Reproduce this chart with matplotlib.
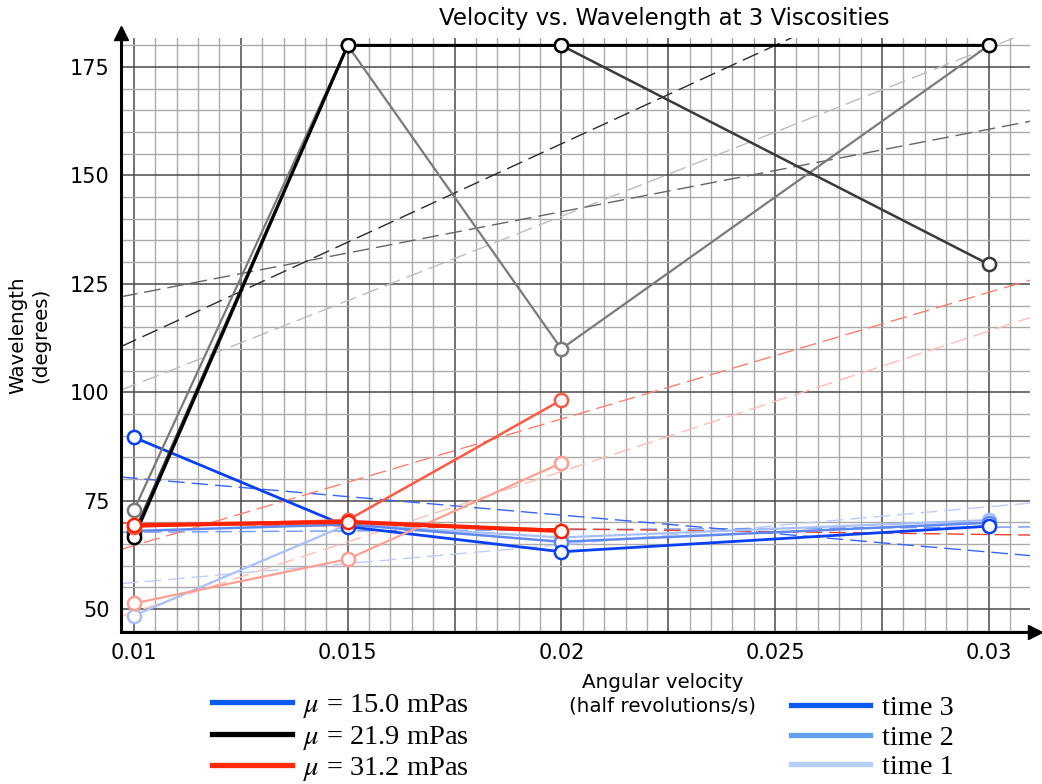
import numpy as np
import matplotlib
matplotlib.use("Agg")
import matplotlib.pyplot as plt
from matplotlib.lines import Line2D
from matplotlib.ticker import FixedLocator, MultipleLocator

plt.rcParams['font.family'] = ['DejaVu Sans']
plt.rcParams['mathtext.fontset'] = 'stix'

# angular velocity (half revolutions/s)
velocity = [0.01, 0.015, 0.02, 0.03]

# wavelength (degrees) per viscosity, time 3 / time 2 / time 1
blue_t3 = [89.6, 69.0, 63.2, 69.1]
blue_t2 = [68.0, 69.5, 65.5, 69.9]
blue_t1 = [48.5, 69.5, 66.5, 70.5]

black_t3 = [66.5, 180.0, 180.0, 180.0]
black_t2 = [67.5, 180.0, 180.0, 129.5]
black_t1 = [72.8, 180.0, 110.0, 180.0]

red_t3 = [69.3, 70.1, 68.0, np.nan]
red_t2 = [69.0, 70.5, 98.2, np.nan]
red_t1 = [51.3, 61.5, 83.7, np.nan]

viscosity_labels = ['$\\mu$ = 15.0 mPas', '$\\mu$ = 21.9 mPas', '$\\mu$ = 31.2 mPas']
time_labels = ['time 3', 'time 2', 'time 1']
x_tick_vals = [0.01, 0.015, 0.02, 0.025, 0.03]
x_tick_labels = ['0.01', '0.015', '0.02', '0.025', '0.03']
y_tick_vals = [50, 75, 100, 125, 150, 175]

# colours: each family goes dark (time 3) -> light (time 1)
blue_cols = ['#0a40f5', '#5f88f2', '#a9c0f7']
black_cols = ['#000000', '#3a3a3a', '#7a7a7a']
red_cols = ['#ff2200', '#ff5a45', '#ff9f94']
trend_blue = ['#3565f0', '#6f95f2', '#bccdf8']
trend_black = ['#2a2a2a', '#666666', '#bdbdbd']
trend_red = ['#e8402a', '#ff8070', '#ffbdb4']

fig = plt.figure(figsize=(10.42, 7.84), dpi=100)
ax = fig.add_axes([0.1161, 0.1939, 0.8724, 0.7576])
ax.set_xlim(0.009696, 0.030964)
ax.set_ylim(44.7, 181.7)

# graph paper grid
ax.xaxis.set_major_locator(MultipleLocator(0.0025))
ax.xaxis.set_minor_locator(MultipleLocator(0.0005))
ax.yaxis.set_major_locator(FixedLocator(y_tick_vals))
ax.yaxis.set_minor_locator(MultipleLocator(5))
ax.grid(which='major', color='#4a4a4a', lw=1.1, zorder=0)
ax.grid(which='minor', color='#aaaaaa', lw=1.0, zorder=0)
ax.set_axisbelow(True)

# only label every other major x line
major_x = ax.xaxis.get_majorticklocs()
labs = []
for v in major_x:
    lab = ''
    for tv, tl in zip(x_tick_vals, x_tick_labels):
        if abs(v - tv) < 1e-6:
            lab = tl
    labs.append(lab)
ax.xaxis.set_major_locator(FixedLocator(major_x))
ax.set_xticklabels(labs)
ax.tick_params(which='both', length=0, labelsize=15, pad=8)

xs = np.array(velocity)


def draw_family(series, cols, tcols, widths):
    for ys, c, tc, w in zip(series, cols, tcols, widths):
        ys = np.array(ys)
        ok = ~np.isnan(ys)
        # least squares trend line over the full width
        k, b = np.polyfit(xs[ok], ys[ok], 1)
        tx = np.array(ax.get_xlim())
        ax.plot(tx, k * tx + b, color=tc, lw=1.0, dashes=(12, 5), zorder=2)
        ax.plot(xs[ok], ys[ok], color=c, lw=w, zorder=3)
        ax.plot(xs[ok], ys[ok], 'o', mfc='white', mec=c, mew=1.8, ms=9.5, zorder=4)


draw_family([blue_t1, blue_t2, blue_t3], blue_cols[::-1], trend_blue[::-1], [1.6, 1.8, 2.0])
draw_family([black_t1, black_t2, black_t3], black_cols[::-1], trend_black[::-1], [1.6, 1.8, 2.2])
draw_family([red_t1, red_t2, red_t3], red_cols[::-1], trend_red[::-1], [1.6, 1.8, 3.0])

# axes with arrow heads
for s in ['top', 'right']:
    ax.spines[s].set_visible(False)
for s in ['left', 'bottom']:
    ax.spines[s].set_linewidth(2.2)
    ax.spines[s].set_color('black')
ax.plot(0, 1.008, '^', color='black', ms=10, transform=ax.transAxes, clip_on=False)
ax.plot(1.006, 0, '>', color='black', ms=10, transform=ax.transAxes, clip_on=False)

fig.text(0.637, 0.976, 'Velocity vs. Wavelength at 3 Viscosities', ha='center', va='center',
         fontsize=16.5)
fig.text(0.636, 0.115, 'Angular velocity\n(half revolutions/s)', ha='center', va='center',
         fontsize=14.3, linespacing=1.3)
fig.text(0.028, 0.572, 'Wavelength\n(degrees)', ha='center', va='center', rotation=90,
         fontsize=14.3, linespacing=1.25)

# legends
leg_font = {'family': 'Liberation Serif', 'size': 20.5}
h1 = [Line2D([], [], color=c, lw=3.8) for c in ['#0a5af0', '#000000', '#ff2a00']]
h2 = [Line2D([], [], color=c, lw=3.8) for c in ['#0a5af0', '#64a0f0', '#b4d0f8']]
l1 = fig.legend(h1, viscosity_labels, loc='center left', bbox_to_anchor=(0.19, 0.059),
                frameon=False, prop=leg_font, handlelength=2.8, handletextpad=0.4,
                labelspacing=0.12, borderpad=0)
l2 = fig.legend(h2, time_labels, loc='center left', bbox_to_anchor=(0.745, 0.059),
                frameon=False, prop=leg_font, handlelength=2.8, handletextpad=0.4,
                labelspacing=0.12, borderpad=0)

fig.savefig('out.png', dpi=100)
